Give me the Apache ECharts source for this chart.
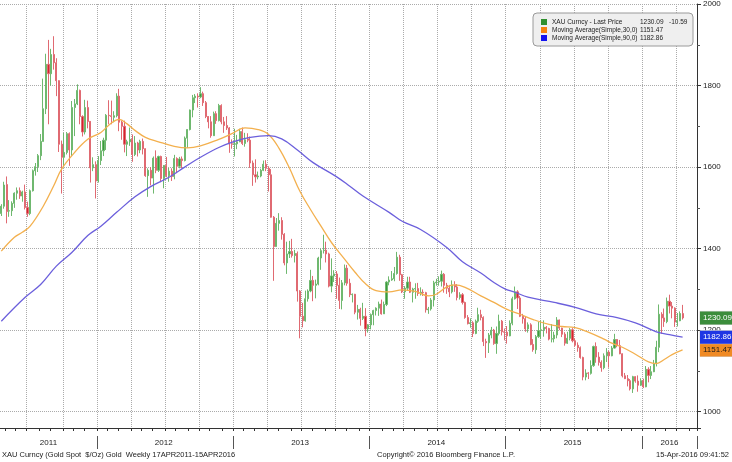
<!DOCTYPE html>
<html><head><meta charset="utf-8">
<script src="https://cdn.jsdelivr.net/npm/echarts@6/dist/echarts.min.js"></script>
<style>html,body{margin:0;padding:0;background:#fff}#c{width:732px;height:462px}</style>
</head><body><div id="c"></div>
<script>
// Weekly XAU candles, week ending 22-Apr-2011 .. 15-Apr-2016
const opens = [
1486,1504,1557,1492,1493,1511,1536,1542,1529,1539,1501,1486,1542,1591,1601,1628,1663,1743,1852,1829,1876,1856,1812,1656,1624,1636,1682,1642,1746,1755,1788,1724,1686,1746,1712,1598,1606,
1566,1616,1640,1666,1727,1726,1722,1726,1774,1710,1700,1656,1662,1668,1631,1659,1642,1663,1645,1579,1592,1573,1622,1592,1626,1572,1604,1579,1590,1577,1621,1602,1620,1616,1671,1692,1740,1770,1774,1772,1780,1758,1724,1711,1677,1731,1714,1751,1711,1702,1696,1657,
1656,1657,1662,1687,1658,1669,1666,1610,1581,1576,1578,1592,1607,1597,1581,1477,1405,1462,1469,1435,1365,1387,1393,1383,1388,1296,1234,1223,1277,1296,1322,1310,1313,1377,1395,1396,1387,1308,1333,1338,1310,1273,1316,1352,1315,1287,1288,1244,1251,1229,1234,1203,
1213,1238,1248,1254,1264,1240,1263,1318,1323,1326,1339,1379,1336,1294,1303,1318,1293,1301,1302,1290,1293,1292,1250,1252,1274,1316,1318,1320,1337,1310,1303,1294,1311,1306,1280,1287,1268,1231,1216,1218,1192,1222,1238,1231,1172,1169,1188,1200,1167,1192,1222,1196,
1195,1186,1217,1277,1294,1279,1234,1228,1203,1213,1165,1152,1184,1199,1201,1207,1204,1178,1179,1188,1225,1205,1190,1168,1180,1201,1174,1163,1157,1133,1085,1095,1094,1113,1160,1134,1121,1108,1137,1146,1137,1156,1177,1162,1142,1088,1081,1076,1056,1086,1075,1065,
1076,1061,1104,1089,1098,1118,1158,1239,1230,1221,1271,1259,1254,1220,1223,1240.68];
const closes = [
1504,1556,1491,1493,1511,1536,1542,1529,1539,1501,1486,1542,1591,1601,1628,1663,1743,1852,1829,1876,1856,1812,1656,1624,1636,1682,1642,1746,1755,1788,1724,1686,1746,1712,1598,1606,1566,
1616,1640,1666,1727,1726,1724,1726,1774,1710,1700,1656,1662,1668,1631,1659,1642,1663,1645,1579,1592,1573,1622,1592,1626,1572,1604,1579,1590,1577,1621,1602,1620,1616,1671,1692,1740,1770,1774,1772,1780,1758,1724,1711,1677,1731,1714,1751,1711,1702,1696,1657,1656,
1657,1662,1687,1658,1667,1666,1610,1581,1576,1578,1592,1607,1597,1581,1477,1405,1462,1469,1435,1365,1387,1393,1383,1388,1296,1234,1223,1277,1296,1322,1310,1313,1377,1395,1396,1387,1308,1333,1338,1310,1273,1316,1352,1315,1287,1288,1244,1251,1229,1234,1203,1213,
1238,1248,1254,1264,1240,1263,1318,1323,1326,1339,1379,1336,1294,1303,1318,1293,1301,1302,1290,1293,1292,1250,1252,1274,1316,1318,1320,1337,1310,1303,1294,1311,1306,1280,1287,1268,1231,1216,1218,1192,1222,1238,1231,1172,1169,1188,1200,1167,1192,1222,1196,1195,
1186,1217,1277,1294,1279,1234,1228,1203,1213,1165,1152,1184,1199,1201,1207,1204,1178,1179,1188,1225,1205,1190,1168,1180,1201,1174,1163,1157,1133,1085,1095,1094,1113,1160,1134,1121,1108,1137,1146,1137,1156,1177,1162,1142,1088,1081,1076,1056,1086,1075,1065,1076,
1061,1104,1089,1098,1118,1158,1239,1230,1221,1271,1259,1254,1220,1223,1240.68,1230.09];
const lows = [
1480,1498,1462,1478,1480,1500,1520,1522,1515,1496,1478,1482,1540,1579,1588,1617,1663,1730,1705,1800,1839,1774,1637,1535,1599,1631,1603,1627,1676,1752,1705,1675,1680,1695,1562,1590,1523,
1562,1605,1627,1642,1705,1705,1710,1722,1688,1667,1636,1627,1652,1613,1627,1626,1634,1631,1576,1527,1555,1535,1585,1588,1563,1548,1575,1564,1566,1570,1585,1597,1597,1614,1647,1690,1722,1757,1746,1769,1750,1720,1695,1672,1677,1706,1712,1705,1684,1691,1635,1645,
1626,1644,1661,1654,1650,1661,1598,1554,1562,1570,1575,1590,1590,1540,1476,1321,1405,1444,1422,1359,1338,1377,1378,1366,1270,1180,1207,1221,1270,1293,1271,1278,1310,1348,1388,1366,1305,1293,1318,1277,1252,1251,1310,1309,1281,1268,1239,1226,1211,1225,1185,1194,
1202,1212,1236,1235,1238,1240,1259,1310,1321,1320,1336,1321,1291,1277,1297,1291,1268,1277,1284,1285,1284,1243,1240,1248,1258,1309,1309,1307,1292,1289,1281,1290,1294,1273,1275,1263,1228,1214,1206,1183,1190,1218,1224,1161,1132,1144,1180,1164,1142,1187,1187,1175,
1167,1185,1212,1275,1252,1232,1216,1196,1194,1163,1147,1142,1181,1178,1184,1192,1175,1170,1170,1180,1200,1183,1162,1166,1175,1170,1159,1147,1130,1077,1077,1080,1091,1110,1120,1113,1098,1104,1122,1108,1136,1155,1158,1141,1084,1080,1062,1052,1046,1071,1049,1063,
1058,1060,1072,1080,1097,1111,1146,1191,1208,1217,1241,1229,1208,1209,1222,1226];
const highs = [
1509,1564,1577,1519,1516,1538,1550,1550,1542,1557,1515,1545,1594,1610,1632,1681,1817,1878,1912,1890,1921,1867,1813,1665,1684,1686,1685,1762,1767,1803,1790,1727,1765,1763,1713,1624,1614,
1627,1664,1672,1730,1764,1763,1737,1781,1792,1714,1714,1667,1697,1680,1676,1662,1667,1670,1646,1597,1600,1626,1641,1628,1628,1605,1625,1598,1597,1630,1624,1625,1626,1675,1693,1741,1777,1779,1781,1796,1785,1762,1725,1725,1736,1737,1755,1754,1723,1725,1698,1668,
1694,1679,1694,1697,1684,1683,1675,1616,1619,1589,1596,1616,1617,1602,1595,1480,1475,1487,1477,1438,1417,1419,1424,1397,1393,1298,1267,1297,1300,1348,1333,1324,1380,1400,1434,1417,1390,1376,1347,1345,1329,1323,1361,1360,1326,1290,1289,1262,1255,1267,1254,1215,
1241,1250,1256,1270,1275,1270,1320,1332,1345,1355,1392,1385,1338,1308,1331,1331,1304,1315,1316,1305,1300,1294,1257,1279,1321,1326,1332,1346,1340,1316,1311,1322,1320,1313,1293,1291,1270,1237,1229,1222,1226,1255,1250,1234,1179,1193,1208,1203,1209,1238,1225,1204,
1210,1224,1282,1307,1298,1284,1240,1234,1219,1217,1178,1188,1220,1224,1224,1210,1206,1215,1196,1232,1226,1206,1195,1196,1205,1205,1180,1170,1160,1135,1104,1097,1126,1162,1170,1146,1126,1143,1156,1150,1161,1191,1178,1176,1143,1095,1090,1080,1088,1087,1089,1082,
1081,1112,1109,1112,1127,1174,1263,1244,1253,1280,1287,1269,1256,1242,1246,1262];

// Moving averages: [week index, value]
const ma30 = [[0,1394],[5,1428],[8,1440],[11,1455],[16,1504],[20,1554],[23,1595],[28,1636],[33,1668],[38,1685],[42,1708],[45,1717],[48,1706],[51,1690],[55,1673],[60,1662],[66,1651],[71,1647],[76,1652],[83,1668],[88,1682],[93,1696],[98,1692],[102,1680],[106,1646],[110,1597],[114,1540],[118,1496],[122,1455],[126,1415],[131,1374],[135,1342],[139,1314],[143,1297],[148,1294],[153,1299],[158,1295],[163,1284],[166,1288],[170,1306],[173,1311],[177,1305],[183,1284],[188,1268],[193,1251],[198,1239],[203,1226],[209,1214],[214,1209],[219,1206],[224,1195],[230,1178],[233,1168],[237,1158],[242,1141],[247,1122],[250,1118],[253,1128],[256,1140],[260,1151.47]];
const ma90 = [[0,1222],[9,1280],[15,1312],[21,1357],[27,1391],[33,1432],[38,1455],[44,1489],[51,1527],[57,1552],[64,1575],[70,1600],[76,1624],[83,1648],[89,1663],[95,1673],[102,1677],[107,1669],[113,1642],[119,1611],[128,1576],[133,1553],[138,1529],[148,1489],[153,1467],[160,1447],[170,1403],[176,1368],[183,1340],[188,1317],[192,1302],[196,1293],[201,1281],[211,1268],[219,1256],[227,1240],[235,1231],[242,1218],[250,1196],[255,1189],[260,1182.86]];

const LAST_PRICE = 1230.09, LAST_CHANGE = -10.59, MA30_LAST = 1151.47, MA90_LAST = 1182.86;
const NAME_PX = 'XAU Curncy - Last Price';
const NAME_30 = 'Moving Average(Simple,30,0)';
const NAME_90 = 'Moving Average(Simple,90,0)';

// weekly categories (+5 empty weeks of right margin)
const START = Date.UTC(2011, 3, 22), WEEK = 7 * 864e5, PAD_WEEKS = 5;
const dates = [];
for (let i = 0; i < closes.length + PAD_WEEKS; i++) dates.push(new Date(START + i * WEEK));
const categories = dates.map(d => d.toISOString().slice(0, 10));
const monthStart = i => i > 0 && dates[i].getUTCMonth() !== dates[i - 1].getUTCMonth();
const quarterStart = i => monthStart(i) && dates[i].getUTCMonth() % 3 === 0;
const yearStart = i => i > 0 && dates[i].getUTCFullYear() !== dates[i - 1].getUTCFullYear();
const byYear = {};
dates.forEach((d, i) => { const y = d.getUTCFullYear(); (byYear[y] = byYear[y] || []).push(i); });
const yearLabelIdx = new Set(Object.values(byYear).map(a => a[Math.floor((a.length - 1) / 2)]));

const candles = opens.map((o, i) => [o, closes[i], lows[i], highs[i]]);

const FONT = "'Liberation Sans', Arial, sans-serif";
const UP = '#3c9a3c', DOWN = '#d6222c', UP_EDGE = '#6fb86f', DOWN_EDGE = '#e06a72';
const ORANGE = '#f3b04e', BLUE = '#6b5fdc';
const legendVals = {};
legendVals[NAME_PX] = [LAST_PRICE.toFixed(2), LAST_CHANGE.toFixed(2)];
legendVals[NAME_30] = [MA30_LAST.toFixed(2), ''];
legendVals[NAME_90] = [MA90_LAST.toFixed(2), ''];

function tag(value, bg, fg) {
  return {
    symbol: 'none', silent: true, animation: false,
    lineStyle: { width: 0, color: 'rgba(0,0,0,0)' },
    label: { show: true, position: 'end', distance: 3, formatter: () => value.toFixed(2),
      backgroundColor: bg, color: fg, fontSize: 8, fontFamily: FONT, padding: [3, 2, 2, 3],
      borderColor: '#d0d0d0', borderWidth: 0.5 },
    emphasis: { disabled: true },
    data: [{ yAxis: value }]
  };
}

const chart = echarts.init(document.getElementById('c'), null, { renderer: 'canvas' });
chart.setOption({
  animation: false,
  backgroundColor: '#ffffff',
  textStyle: { fontFamily: FONT },
  title: [
    { text: 'XAU Curncy (Gold Spot  $/Oz) Gold  Weekly 17APR2011-15APR2016', left: 2, top: 451, padding: 0,
      textStyle: { fontSize: 7.5, fontWeight: 'normal', color: '#222', fontFamily: FONT } },
    { text: 'Copyright\u00a9 2016 Bloomberg Finance L.P.', left: 377, top: 451, padding: 0,
      textStyle: { fontSize: 7.5, fontWeight: 'normal', color: '#222', fontFamily: FONT } },
    { text: '15-Apr-2016 09:41:52', right: 3, top: 451, padding: 0,
      textStyle: { fontSize: 7.5, fontWeight: 'normal', color: '#222', fontFamily: FONT } }
  ],
  legend: {
    orient: 'vertical', left: 533, top: 13, padding: [5, 4, 4, 8],
    itemWidth: 6, itemHeight: 6, itemGap: 0, icon: 'rect',
    backgroundColor: '#efefef', borderColor: '#9a9a9a', borderWidth: 1, borderRadius: 4,
    selectedMode: false,
    data: [
      { name: NAME_PX, itemStyle: { color: '#2f8f2f', borderWidth: 0 } },
      { name: NAME_30, itemStyle: { color: '#f5820f', borderWidth: 0 } },
      { name: NAME_90, itemStyle: { color: '#1212f0', borderWidth: 0 } }
    ],
    formatter: name => `{n|${name}}{v|${legendVals[name][0]}}{c|${legendVals[name][1]}}`,
    textStyle: { fontSize: 6.5, color: '#222', lineHeight: 8, fontFamily: FONT,
      rich: { n: { width: 88, fontSize: 6.5 }, v: { width: 29, fontSize: 6.5 }, c: { width: 20, fontSize: 6.5 } } }
  },
  grid: { left: -1, right: 35, top: 4, bottom: 34, containLabel: false },
  xAxis: [
    { type: 'category', data: categories, boundaryGap: true,
      axisLine: { show: true, lineStyle: { color: '#333', width: 1 } },
      axisTick: { show: true, interval: monthStart, length: 3, lineStyle: { color: '#333' } },
      axisLabel: { show: true, interval: i => yearLabelIdx.has(i), margin: 11,
        formatter: v => v.slice(0, 4), fontSize: 8, color: '#222', fontFamily: FONT },
      splitLine: { show: true, interval: quarterStart, lineStyle: { color: '#ababab', type: 'dotted', width: 1 } }
    },
    { type: 'category', data: categories, boundaryGap: true, position: 'bottom', offset: 8,
      axisLine: { show: false },
      axisTick: { show: true, interval: yearStart, length: 13, lineStyle: { color: '#555' } },
      axisLabel: { show: false }, splitLine: { show: false }
    }
  ],
  yAxis: {
    type: 'value', position: 'right', min: 960, max: 2000, splitNumber: 5, scale: true,
    axisLine: { show: true, lineStyle: { color: '#333', width: 1 } },
    axisTick: { show: true, length: 4, lineStyle: { color: '#333' } },
    minorTick: { show: true, splitNumber: 2, length: 3, lineStyle: { color: '#555' } },
    axisLabel: { showMinLabel: false, margin: 6, fontSize: 8, color: '#222', fontFamily: FONT,
      formatter: v => (v % 200 === 0 ? String(v) : '') },
    splitLine: { show: true, lineStyle: { color: '#ababab', type: 'dotted', width: 1 } }
  },
  series: [
    { name: NAME_PX, type: 'candlestick', data: candles, barWidth: 1.6, z: 2, clip: false,
      itemStyle: { color: UP, color0: DOWN, borderColor: UP_EDGE, borderColor0: DOWN_EDGE, borderWidth: 1 },
      markLine: tag(LAST_PRICE, '#3b8d3b', '#ffffff') },
    { name: NAME_30, type: 'line', data: ma30, showSymbol: false, symbol: 'none', smooth: 0.4, z: 4, clip: false,
      lineStyle: { color: ORANGE, width: 1.3 }, itemStyle: { color: ORANGE },
      markLine: tag(MA30_LAST, '#f08a24', '#1a1a1a') },
    { name: NAME_90, type: 'line', data: ma90, showSymbol: false, symbol: 'none', smooth: 0.4, z: 4, clip: false,
      lineStyle: { color: BLUE, width: 1.3 }, itemStyle: { color: BLUE },
      markLine: tag(MA90_LAST, '#1f36e4', '#ffffff') }
  ]
});
</script>
</body></html>
